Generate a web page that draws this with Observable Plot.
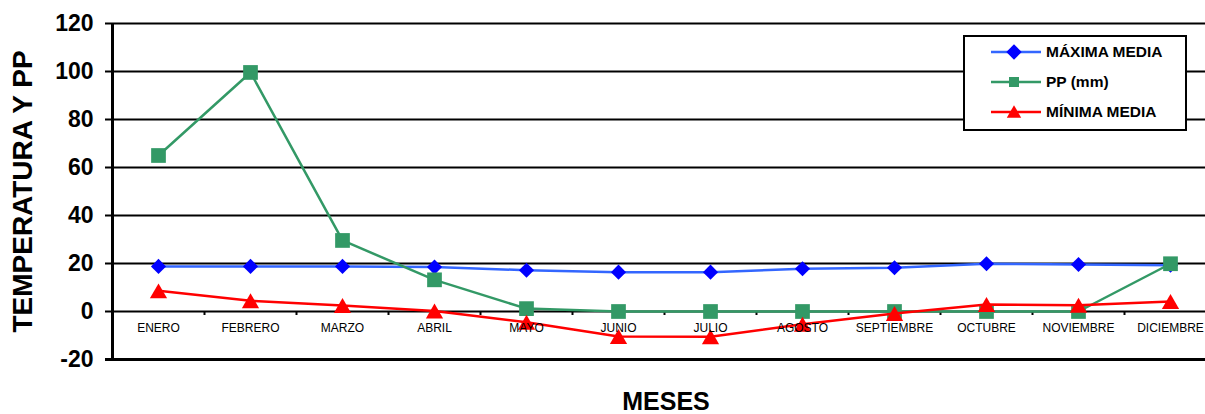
<!DOCTYPE html>
<html>
<head>
<meta charset="utf-8">
<script src="https://cdn.jsdelivr.net/npm/d3@7"></script>
<script src="https://cdn.jsdelivr.net/npm/@observablehq/plot@0.6"></script>
<style>
  html, body { margin: 0; padding: 0; background: #fff; overflow: hidden; }
  #wrap { position: relative; width: 1205px; height: 414px; font-family: "Liberation Sans", Arial, sans-serif; }
  #legend {
    position: absolute; left: 963px; top: 35px; width: 220px; height: 92px;
    border: 2px solid #000; background: #fff; box-sizing: content-box;
  }
  #legend .row { position: absolute; left: 0; height: 20px; display: flex; align-items: center; }
  #legend svg { display: block; }
  #legend span { font-weight: bold; font-size: 15.5px; color: #000; margin-left: 4px; white-space: nowrap; }
</style>
</head>
<body>
<div id="wrap"></div>
<script>
// Monthly climate normals: mean max / min temperature (°C) and precipitation (mm)
const months = ["ENERO", "FEBRERO", "MARZO", "ABRIL", "MAYO", "JUNIO", "JULIO",
  "AGOSTO", "SEPTIEMBRE", "OCTUBRE", "NOVIEMBRE", "DICIEMBRE"];
const maximaMedia = [18.8, 18.8, 18.8, 18.5, 17.2, 16.4, 16.4, 17.8, 18.2, 19.9, 19.6, 19.3];
const ppMm = [65, 99.6, 29.6, 13.2, 1.2, 0, 0, 0, 0, 0, 0, 19.9];
const minimaMedia = [8.6, 4.5, 2.5, 0.2, -4.5, -10.4, -10.5, -5.3, -0.8, 2.9, 2.6, 4.2];
const yTicks = [-20, 0, 20, 40, 60, 80, 100, 120];

const seriesNames = ["MÁXIMA MEDIA", "PP (mm)", "MÍNIMA MEDIA"];
const lineColors = ["#3366ff", "#339966", "#ff0000"];
const markColors = ["#0000ff", "#339966", "#ff0000"];

const font = "Liberation Sans, Arial, sans-serif";
const toRows = (vals) => months.map((m, i) => ({month: m, value: vals[i]}));
const maxRows = toRows(maximaMedia);
const ppRows = toRows(ppMm);
const minRows = toRows(minimaMedia);

const W = 1205, H = 414;
const left = 112, right = 1216;          // the category band runs past the right edge
const bw = (right - left) / months.length;

const chart = Plot.plot({
  width: W,
  height: H,
  marginLeft: left,
  marginRight: 0,
  marginTop: 23,
  marginBottom: 55,
  style: {fontFamily: font, background: "#fff", overflow: "hidden"},
  x: {type: "band", domain: months, range: [left, right], padding: 0, axis: null},
  y: {domain: [-20, 120], axis: null},
  marks: [
    // horizontal gridlines
    Plot.ruleY(yTicks.filter(d => d !== -20), {stroke: "#000", strokeWidth: 2, insetLeft: -7}),
    Plot.ruleY([-20], {stroke: "#000", strokeWidth: 3, insetLeft: -7}),
    // vertical axis line
    Plot.ruleX([months[0]], {y1: -20, y2: 120, dx: -bw / 2, stroke: "#000", strokeWidth: 3}),
    // small category ticks on the zero line
    Plot.ruleX(months.slice(1), {y1: 0, y2: 0, insetBottom: -4, dx: -bw / 2, stroke: "#000", strokeWidth: 2}),
    // y tick labels
    Plot.text(yTicks, {y: d => d, frameAnchor: "left", textAnchor: "end", dx: -19,
      text: d => String(d), fontSize: 23, fontWeight: "bold", fill: "#000"}),
    // series: maximum
    Plot.line(maxRows, {x: "month", y: "value", stroke: lineColors[0], strokeWidth: 2.5}),
    Plot.dot(maxRows, {x: "month", y: "value", symbol: "diamond2", r: 6.8, fill: markColors[0], stroke: "none"}),
    // series: precipitation
    Plot.line(ppRows, {x: "month", y: "value", stroke: lineColors[1], strokeWidth: 2.5}),
    Plot.dot(ppRows, {x: "month", y: "value", symbol: "square", r: 8.3, fill: markColors[1], stroke: "none"}),
    // series: minimum
    Plot.line(minRows, {x: "month", y: "value", stroke: lineColors[2], strokeWidth: 2.5}),
    Plot.dot(minRows, {x: "month", y: "value", symbol: "triangle", r: 6.4, dy: 2.5, fill: markColors[2], stroke: "none"}),
    // month labels just under the zero line
    Plot.text(months, {x: d => d, y: 0, dy: 17, text: d => d, fontSize: 12, fill: "#000"}),
    // axis titles
    Plot.text(["TEMPERATURA Y PP"], {frameAnchor: "left", textAnchor: "middle", lineAnchor: "middle",
      rotate: -90, dx: -89, fontSize: 28, fontWeight: "bold", fill: "#000"}),
    Plot.text(["MESES"], {frameAnchor: "bottom", textAnchor: "middle", lineAnchor: "middle", dx: 7, dy: 42,
      fontSize: 25, fontWeight: "bold", fill: "#000"})
  ]
});

const wrap = document.getElementById("wrap");
wrap.appendChild(chart);

// legend box
const legend = document.createElement("div");
legend.id = "legend";
const symbolPaths = [
  d3.symbol(d3.symbolDiamond2, 150)(),
  d3.symbol(d3.symbolSquare, 100)(),
  d3.symbol(d3.symbolTriangle, 90)()
];
seriesNames.forEach((name, i) => {
  const row = document.createElement("div");
  row.className = "row";
  row.style.top = (5 + i * 30) + "px";
  row.style.left = "25px";
  row.innerHTML =
    `<svg width="52" height="20" viewBox="0 0 52 20">
       <line x1="1" x2="51" y1="10" y2="10" stroke="${lineColors[i]}" stroke-width="2.5"/>
       <path d="${symbolPaths[i]}" transform="translate(24,${i === 2 ? 11.5 : 10})" fill="${markColors[i]}"/>
     </svg><span>${name}</span>`;
  legend.appendChild(row);
});
wrap.appendChild(legend);
</script>
</body>
</html>
